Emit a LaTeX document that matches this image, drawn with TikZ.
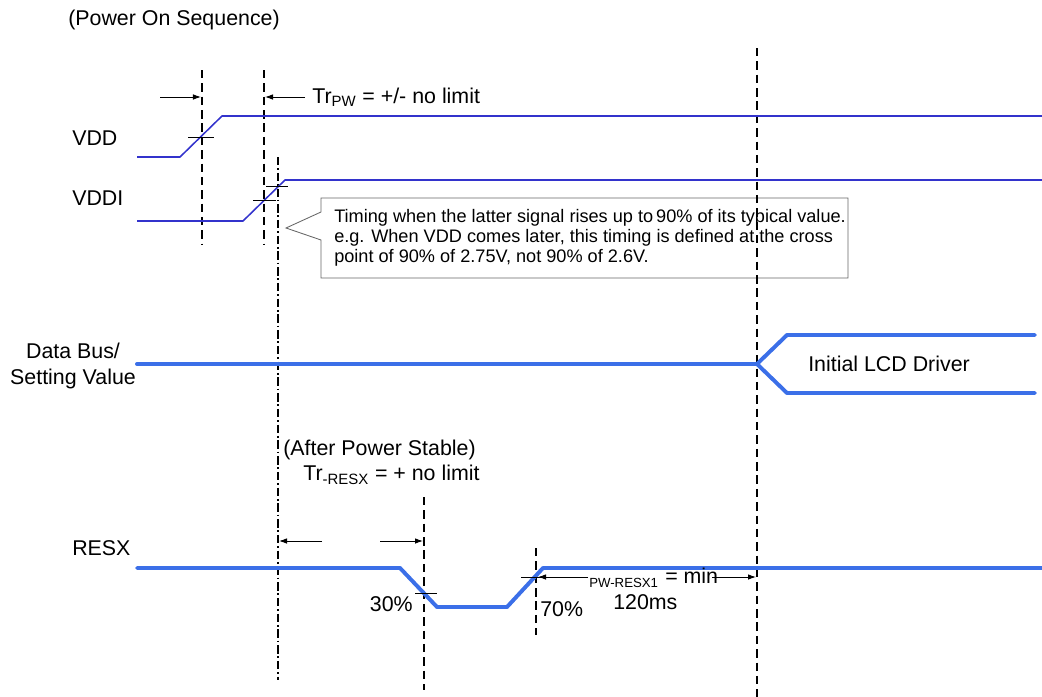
\documentclass[tikz,border=0pt]{standalone}
\usepackage{fontspec}
\setmainfont{Liberation Sans}
\usetikzlibrary{arrows.meta, positioning, calc}

\definecolor{thinblue}{RGB}{51,51,204}
\definecolor{busblue}{RGB}{59,111,232}

\begin{document}
\begin{tikzpicture}[
x=0.025cm, y=-0.025cm,
every node/.style={font=\fontsize{15.2}{18.5}\selectfont, inner sep=0pt},
lbl/.style={anchor=west},
sig/.style={thinblue, line width=1.1pt, line join=round},
bus/.style={busblue, line width=2.8pt, line cap=round, line join=round},
guide/.style={black, line width=1.2pt, dash pattern=on 6pt off 3.5pt},
guidedot/.style={black, line width=1.2pt, dash pattern=on 6pt off 2pt on 1.2pt off 2pt},
tick/.style={black, line width=0.7pt},
arrow/.style={-{Latex[length=2mm, width=1.4mm]}, line width=0.7pt},
note/.style={font=\fontsize{12.9}{14.2}\selectfont, align=left, anchor=north west}
]
\useasboundingbox (0,0) rectangle (1042,697);

% labels
\node[lbl] (title) at (68,20) {(Power On Sequence)};
\node[lbl] (vdd) at (72,138) {VDD};
\node[lbl] (vddi) at (72,198) {VDDI};
\node[align=center] (bus) at (73,366) {Data Bus/\\Setting Value};
\node[lbl] (resx) at (72,548) {RESX};

% callout
\draw[black!60, line width=0.6pt, fill=white] (321,198) -- (848,198) -- (848,278) -- (321,278)
  -- (321,240) -- (286,228) -- (321,212) -- cycle;
\node[note] (callout) at (334,209) {Timing when the latter signal rises up to\,90\% of its typical value.\\
e.g. When VDD comes later, this timing is defined at the cross\\
point of 90\% of 2.75V, not 90\% of 2.6V.};

% guide lines
\coordinate (g1t) at (202,70);  \coordinate (g1b) at (202,245);
\coordinate (g2t) at (264,70);  \coordinate (g2b) at (264,245);
\coordinate (g3t) at (278,157); \coordinate (g3b) at (278,680);
\coordinate (g4t) at (757,48);  \coordinate (g4b) at (757,697);
\coordinate (g5t) at (424,497); \coordinate (g5b) at (424,690);
\coordinate (g6t) at (536,548); \coordinate (g6b) at (536,635);
\draw[guide] (g1t) -- (g1b);
\draw[guide] (g2t) -- (g2b);
\draw[guidedot] (g3t) -- (g3b);
\draw[guide] (g4t) -- (g4b);
\draw[guide] (g5t) -- (g5b);
\draw[guide] (g6t) -- (g6b);

% Tr_PW
\coordinate (pa) at (160,97); \coordinate (pa2) at (201,97);
\coordinate (pb) at (305,97); \coordinate (pb2) at (265,97);
\draw[arrow] (pa) -- (pa2);
\draw[arrow] (pb) -- (pb2);
\node[lbl] (trpw) at (312,97) {Tr\textsubscript{PW} = +/- no limit};

% supply signals
\draw[sig] (137,157) -- (180,157) -- (222,116) -- (1042,116);
\draw[sig] (137,221) -- (243,221) -- (285,180) -- (1042,180);
\draw[tick] (188,137) -- (214,137);
\draw[tick] (253,200) -- (276,200);
\draw[tick] (266,186) -- (288,186);

% data bus
\draw[bus] (137,364) -- (757,364);
\draw[bus] (1035,335) -- (787,335) -- (757,364) -- (787,393) -- (1035,393);
\node[lbl] (drv) at (808,364) {Initial LCD Driver};

% reset
\node[lbl] (stable) at (283,450) {(After Power Stable)};
\node[lbl] (trresx) at (303,475) {Tr\textsubscript{-RESX} = + no limit};
\coordinate (ra) at (322,541); \coordinate (ra2) at (279,541);
\coordinate (rb) at (380,541); \coordinate (rb2) at (423,541);
\draw[arrow] (ra) -- (ra2);
\draw[arrow] (rb) -- (rb2);
\draw[bus] (137,568) -- (400,568) -- (437,607) -- (507,607) -- (543,568) -- (1042,568);
\draw[tick] (415,593) -- (437,593);
\draw[tick] (521,577) -- (550,577);
\node[anchor=east] (p30) at (413,604) {30\%};
\node[lbl] (p70) at (540,609) {70\%};

% pulse width
\node[lbl, font=\fontsize{9.4}{11}\selectfont] (pwsub) at (589,583) {PW-RESX1};
\node[lbl] (pwmin) at (665,576) {= min};
\node[lbl] (pwval) at (613,602) {120ms};
\coordinate (wl) at (588,577); \coordinate (wl2) at (538,577);
\coordinate (wr) at (712,577); \coordinate (wr2) at (756,577);
\draw[arrow] (wl) -- (wl2);
\draw[arrow] (wr) -- (wr2);
\end{tikzpicture}
\end{document}
